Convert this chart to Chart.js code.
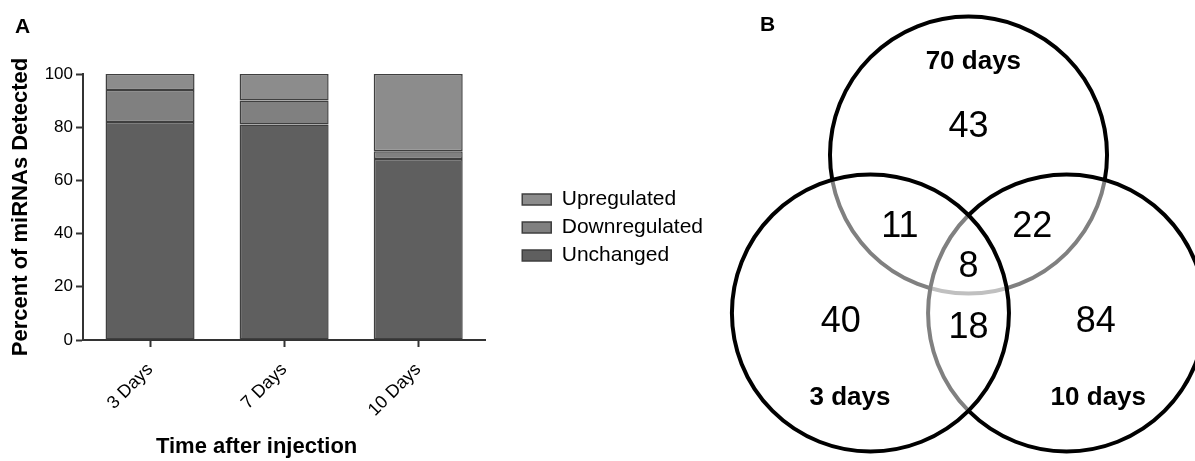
<!DOCTYPE html>
<html>
<head>
<meta charset="utf-8">
<script src="https://cdn.jsdelivr.net/npm/chart.js@4.4.1/dist/chart.umd.min.js"></script>
<style>
  body { margin: 0; background: #fff; }
  #wrap { position: relative; width: 1195px; height: 461px; overflow: hidden; font-family: "Liberation Sans", Arial, sans-serif; }
  #barChart { position: absolute; left: 0; top: 0; }
  #vennChart { position: absolute; left: 720px; top: 0; }
  .panel { position: absolute; font-weight: bold; font-size: 21px; line-height: 24px; }
</style>
</head>
<body>
<div id="wrap">
  <canvas id="barChart" width="720" height="461"></canvas>
  <canvas id="vennChart" width="475" height="461"></canvas>
  <div class="panel" style="left:15px;top:14px">A</div>
  <div class="panel" style="left:760px;top:12px">B</div>
</div>
<script>
// panel A: percent of miRNAs detected
const timepoints = ['3 Days', '7 Days', '10 Days'];
const unchanged = [82, 81, 68];
const downregulated = [12, 9, 3];
const upregulated = [6, 10, 29];
const yTicks = [0, 20, 40, 60, 80, 100];

// panel B: venn diagram (drawing order: top, right, left)
const vennSets = ['70 days', '10 days', '3 days'];
const vennCenterX = [0, 0.708, -0.708];
const vennCenterY = [0.57, -0.57, -0.57];
const vennRadius = [1, 1, 1];
const setLabelX = [0.035, 0.937, -0.856];
const setLabelY = [1.244, -1.18, -1.18];
const regionCounts = [43, 11, 22, 8, 40, 18, 84];
const regionX = [0, -0.495, 0.461, 0, -0.923, 0, 0.918];
const regionY = [0.773, 0.053, 0.053, -0.236, -0.633, -0.681, -0.633];

const FONT = '"Liberation Sans", Arial, sans-serif';
Chart.defaults.font.family = FONT;
Chart.defaults.color = '#000';

new Chart(document.getElementById('barChart'), {
  type: 'bar',
  data: {
    labels: timepoints,
    datasets: [
      { label: 'Unchanged', data: unchanged, backgroundColor: '#5f5f5f' },
      { label: 'Downregulated', data: downregulated, backgroundColor: '#808080' },
      { label: 'Upregulated', data: upregulated, backgroundColor: '#8c8c8c' }
    ]
  },
  options: {
    responsive: false,
    animation: false,
    events: [],
    datasets: {
      bar: {
        borderColor: '#3f3f3f',
        borderWidth: 1.5,
        borderSkipped: false,
        categoryPercentage: 1,
        barPercentage: 0.664
      }
    },
    layout: { padding: { top: 74, right: 7, left: 0, bottom: 0 } },
    plugins: {
      tooltip: { enabled: false },
      legend: {
        position: 'right',
        fullSize: false,
        maxWidth: 260,
        reverse: true,
        // empty title only pushes the rows down a bit
        title: { display: true, text: '', font: { size: 10, lineHeight: 1 }, padding: { top: 31, bottom: 0 } },
        labels: { boxWidth: 29, boxHeight: 11, padding: 7, color: '#000', font: { size: 21 } }
      }
    },
    scales: {
      x: {
        stacked: true,
        grid: { display: true, drawOnChartArea: false, offset: false, tickLength: 7, tickWidth: 2, tickColor: '#333' },
        border: { color: '#333', width: 2 },
        ticks: { color: '#000', font: { size: 18 }, minRotation: 45, maxRotation: 45, padding: 12 },
        title: {
          display: true,
          text: 'Time after injection' + '\u00a0'.repeat(9),
          font: { size: 22, weight: 'bold' },
          color: '#000',
          padding: { top: 0, bottom: 1 }
        },
        afterFit: s => { s.height = 121; }
      },
      y: {
        stacked: true,
        min: 0,
        max: 100,
        afterBuildTicks: axis => { axis.ticks = yTicks.map(v => ({ value: v })); },
        grid: { display: true, drawOnChartArea: false, tickLength: 7, tickWidth: 2, tickColor: '#333' },
        border: { color: '#333', width: 2 },
        ticks: { color: '#000', font: { size: 17 }, padding: 3 },
        title: {
          display: true,
          text: 'Percent of miRNAs Detected',
          font: { size: 22, weight: 'bold' },
          color: '#000',
          padding: { top: 8, bottom: 0 }
        },
        afterFit: s => { s.width = 83; }
      },
      // spacer between plot and legend
      yGap: {
        type: 'linear',
        position: 'right',
        grid: { display: false },
        border: { display: false },
        ticks: { display: false },
        afterFit: s => { s.width = 30; }
      }
    }
  }
});

const vennText = {
  id: 'vennText',
  afterDatasetsDraw(chart) {
    const { ctx, scales: { x, y } } = chart;
    ctx.save();
    ctx.fillStyle = '#000';
    ctx.textAlign = 'center';
    ctx.textBaseline = 'middle';
    ctx.font = '36px ' + FONT;
    regionCounts.forEach((n, i) => {
      ctx.fillText(String(n), x.getPixelForValue(regionX[i]), y.getPixelForValue(regionY[i]));
    });
    ctx.font = 'bold 26px ' + FONT;
    vennSets.forEach((name, i) => {
      ctx.fillText(name, x.getPixelForValue(setLabelX[i]), y.getPixelForValue(setLabelY[i]));
    });
    ctx.restore();
  }
};

new Chart(document.getElementById('vennChart'), {
  type: 'scatter',
  data: {
    datasets: [{
      label: 'sets',
      data: vennSets.map((s, i) => ({ x: vennCenterX[i], y: vennCenterY[i] })),
      pointRadius: c => {
        const sx = c.chart.scales.x;
        return sx.getPixelForValue(vennRadius[c.dataIndex]) - sx.getPixelForValue(0);
      },
      pointBackgroundColor: 'rgba(255,255,255,0.5)',
      pointBorderColor: '#000',
      pointBorderWidth: 4,
      clip: false
    }]
  },
  options: {
    responsive: false,
    animation: false,
    events: [],
    layout: { padding: 0 },
    plugins: { legend: { display: false }, tooltip: { enabled: false } },
    scales: {
      x: { type: 'linear', display: false, min: -1.794, max: 1.635 },
      y: { type: 'linear', display: false, min: -1.639, max: 1.690 }
    }
  },
  plugins: [vennText]
});
</script>
</body>
</html>
